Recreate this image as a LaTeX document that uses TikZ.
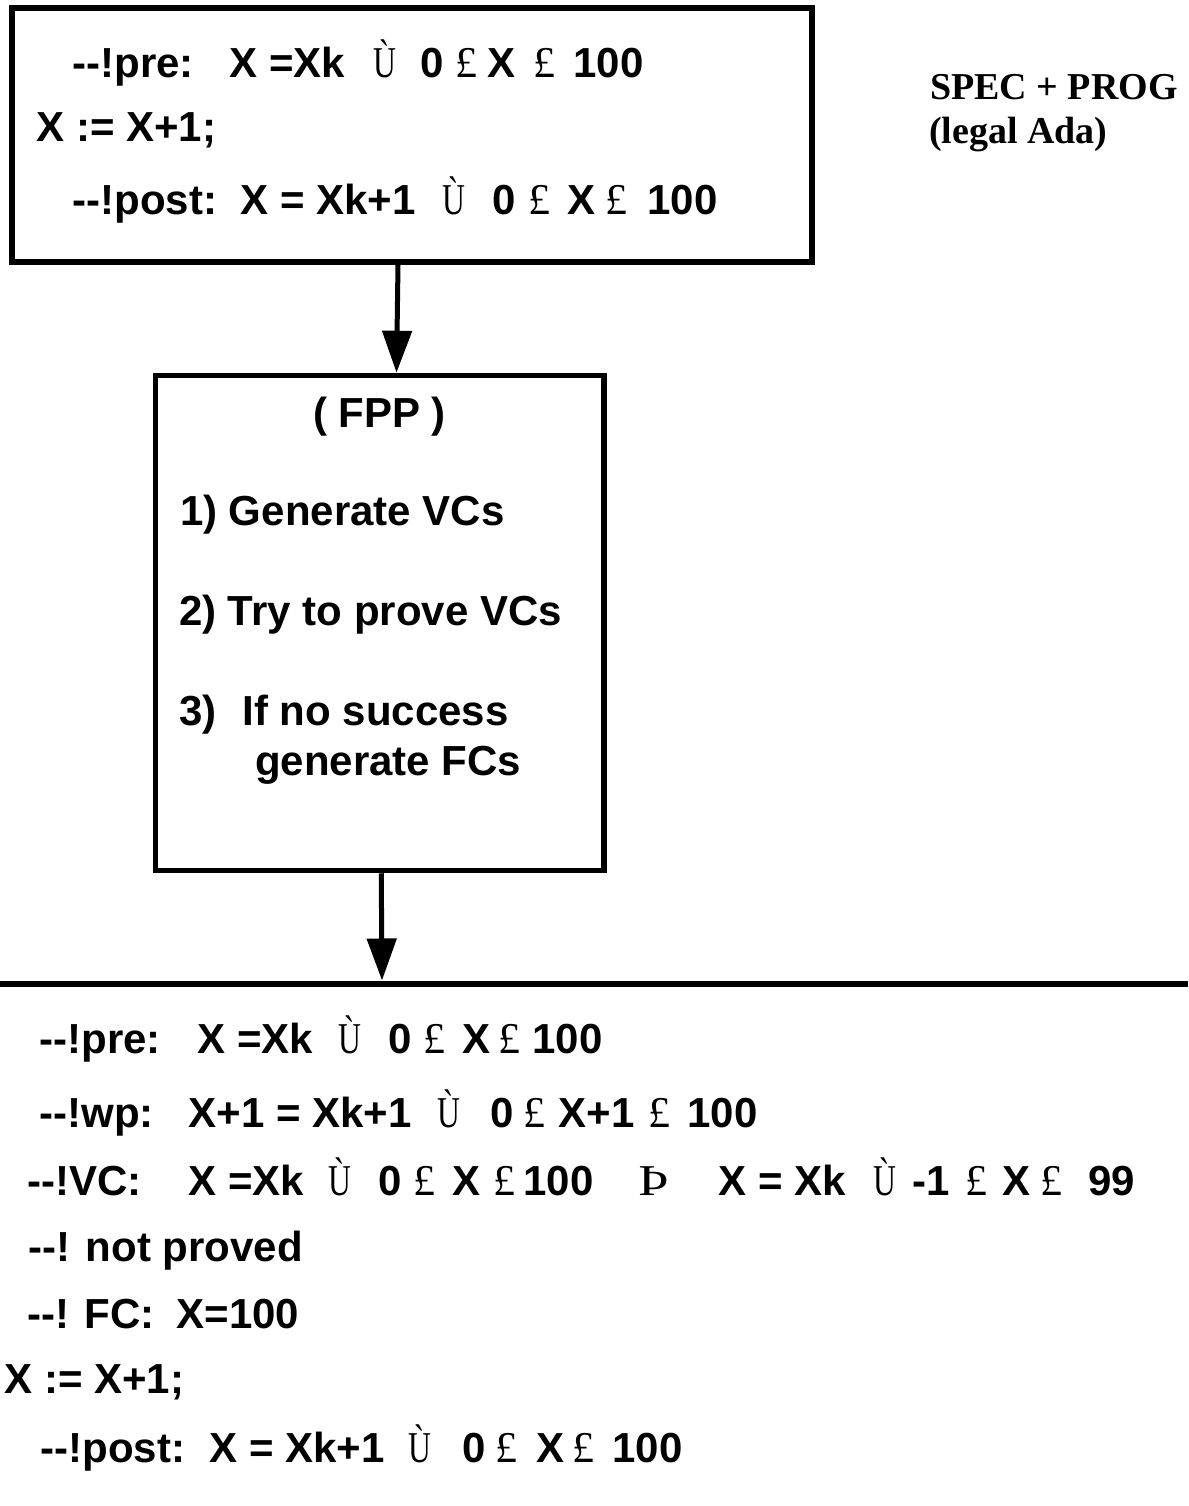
\documentclass[tikz,border=0pt]{standalone}
\usepackage{fontspec}
\usepackage{graphicx}
\usetikzlibrary{arrows.meta}
\newfontfamily\af{Liberation Sans}
\newfontfamily\tf{Liberation Serif}
\newcommand\tk[2]{\rlap{\hspace*{#1pt}#2}}
\newcommand\symand{\scalebox{0.72}[1]{\tf\mdseries\fontsize{44}{46}\selectfont Ù}}
\newcommand\symle{{\tf\mdseries\fontsize{44}{46}\selectfont £}}
\newcommand\symimp{\scalebox{1.25}[1]{\tf\mdseries\fontsize{44}{46}\selectfont Þ}}
\tikzset{
  x=1pt, y=-1pt,
  box/.style={draw, line width=5.5pt, rectangle, inner sep=0pt},
  txt/.style={anchor=base west, inner sep=0pt, outer sep=0pt,
    font=\af\bfseries\fontsize{42}{50}\selectfont},
  serifb/.style={anchor=base west, inner sep=0pt, outer sep=0pt,
    font=\tf\bfseries\fontsize{38}{44}\selectfont},
  arr/.style={line width=5pt, -{Triangle[length=42pt,width=29pt]}},
  rule/.style={line width=6pt}
}
\begin{document}
\begin{tikzpicture}
\useasboundingbox (0,0) rectangle (1188,1506);
% boxes
\node[box, minimum width=800pt, minimum height=254pt] (spec) at (412,135) {};
\node[box, minimum width=448.5pt, minimum height=495pt] (fpp) at (379.75,623) {};
% bottom rule
\coordinate (hl) at (0,983.5);
\coordinate (hr) at (1188,983.5);
\coordinate (hit) at (382,980.5);
\draw[rule] (hl) -- (hr);
% arrows
\draw[arr] ([xshift=-14pt]spec.south) -- ([xshift=16.75pt]fpp.north);
\draw[arr] ([xshift=1.5pt]fpp.south) -- (hit);
% top box text
\node[txt] (s1) at (0,78) {\tk{72}{--!pre:}\tk{229}{X =Xk}\tk{373}{\symand}\tk{420}{0}\tk{455}{\symle}\tk{487}{X}\tk{533}{\symle}\tk{573}{100}};
\node[txt] (s2) at (0,142) {\tk{36}{X := X+1;}};
\node[txt] (s3) at (0,215) {\tk{72}{--!post:}\tk{240}{X = Xk+1}\tk{442}{\symand}\tk{492}{0}\tk{528}{\symle}\tk{567}{X}\tk{605}{\symle}\tk{647}{100}};
% side label
\node[serifb] (lab1) at (930,100) {SPEC + PROG};
\node[serifb] (lab2) at (929,144) {(legal Ada)};
% FPP text
\node[txt] (f0) at (313,427) {( FPP )};
\node[txt] (f1) at (180,525) {1) Generate VCs};
\node[txt] (f2) at (179,625) {2) Try to prove VCs};
\node[txt] (f3) at (0,725) {\tk{179}{3)}\tk{242}{If no success}};
\node[txt] (f4) at (255,775) {generate FCs};
% bottom text
\node[txt] (b1) at (0,1053) {\tk{39}{--!pre:}\tk{197}{X =Xk}\tk{338}{\symand}\tk{388}{0}\tk{423}{\symle}\tk{462}{X}\tk{498}{\symle}\tk{532}{100}};
\node[txt] (b2) at (0,1127) {\tk{39}{--!wp:}\tk{188}{X+1 = Xk+1}\tk{437}{\symand}\tk{490}{0}\tk{523}{\symle}\tk{558}{X+1}\tk{648}{\symle}\tk{687}{100}};
\node[txt] (b3) at (0,1195) {\tk{27}{--!VC:}\tk{188}{X =Xk}\tk{328}{\symand}\tk{378}{0}\tk{413}{\symle}\tk{452}{X}\tk{493}{\symle}\tk{523}{100}\tk{638}{\symimp}\tk{718}{X = Xk}\tk{873}{\symand}\tk{912}{-1}\tk{965}{\symle}\tk{1002}{X}\tk{1040}{\symle}\tk{1088}{99}};
\node[txt] (b4) at (0,1261) {\tk{28}{--! not proved}};
\node[txt] (b5) at (0,1328) {\tk{27}{--! FC:}\tk{176}{X=100}};
\node[txt] (b6) at (0,1393) {\tk{4}{X := X+1;}};
\node[txt] (b7) at (0,1462) {\tk{40}{--!post:}\tk{209}{X = Xk+1}\tk{408}{\symand}\tk{462}{0}\tk{495}{\symle}\tk{536}{X}\tk{572}{\symle}\tk{612}{100}};
\end{tikzpicture}
\end{document}
